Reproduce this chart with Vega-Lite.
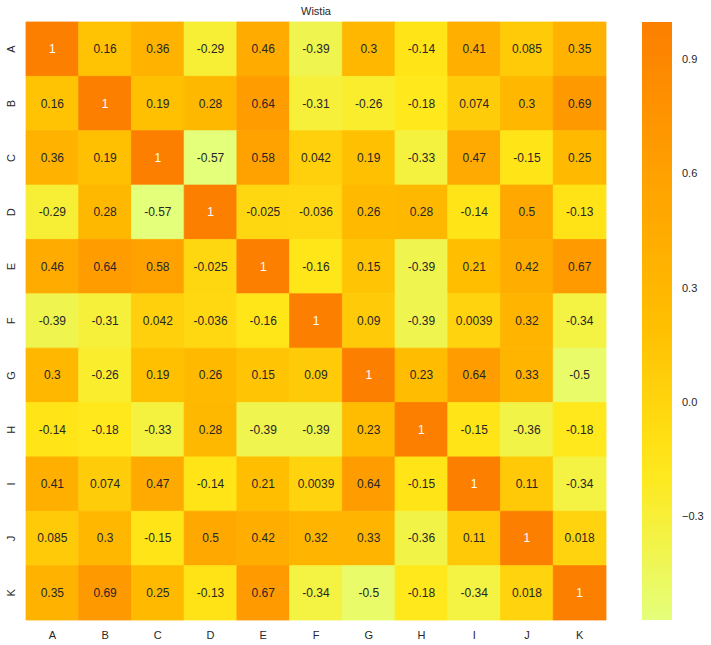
{
  "$schema": "https://vega.github.io/schema/vega-lite/v6.json",
  "width": 580,
  "height": 598,
  "padding": {"left": 5, "top": 5, "right": 5, "bottom": 5},
  "background": "white",
  "title": {"text": "Wistia", "fontSize": 11, "font": "Liberation Sans", "fontWeight": "normal", "color": "#262626", "offset": 5},
  "config": {"view": {"stroke": null}, "font": "Liberation Sans"},
  "data": {"values": [
    {"r":"A","c":"A","v":1},{"r":"A","c":"B","v":0.16},{"r":"A","c":"C","v":0.36},{"r":"A","c":"D","v":-0.29},{"r":"A","c":"E","v":0.46},{"r":"A","c":"F","v":-0.39},{"r":"A","c":"G","v":0.3},{"r":"A","c":"H","v":-0.14},{"r":"A","c":"I","v":0.41},{"r":"A","c":"J","v":0.085},{"r":"A","c":"K","v":0.35},
    {"r":"B","c":"A","v":0.16},{"r":"B","c":"B","v":1},{"r":"B","c":"C","v":0.19},{"r":"B","c":"D","v":0.28},{"r":"B","c":"E","v":0.64},{"r":"B","c":"F","v":-0.31},{"r":"B","c":"G","v":-0.26},{"r":"B","c":"H","v":-0.18},{"r":"B","c":"I","v":0.074},{"r":"B","c":"J","v":0.3},{"r":"B","c":"K","v":0.69},
    {"r":"C","c":"A","v":0.36},{"r":"C","c":"B","v":0.19},{"r":"C","c":"C","v":1},{"r":"C","c":"D","v":-0.57},{"r":"C","c":"E","v":0.58},{"r":"C","c":"F","v":0.042},{"r":"C","c":"G","v":0.19},{"r":"C","c":"H","v":-0.33},{"r":"C","c":"I","v":0.47},{"r":"C","c":"J","v":-0.15},{"r":"C","c":"K","v":0.25},
    {"r":"D","c":"A","v":-0.29},{"r":"D","c":"B","v":0.28},{"r":"D","c":"C","v":-0.57},{"r":"D","c":"D","v":1},{"r":"D","c":"E","v":-0.025},{"r":"D","c":"F","v":-0.036},{"r":"D","c":"G","v":0.26},{"r":"D","c":"H","v":0.28},{"r":"D","c":"I","v":-0.14},{"r":"D","c":"J","v":0.5},{"r":"D","c":"K","v":-0.13},
    {"r":"E","c":"A","v":0.46},{"r":"E","c":"B","v":0.64},{"r":"E","c":"C","v":0.58},{"r":"E","c":"D","v":-0.025},{"r":"E","c":"E","v":1},{"r":"E","c":"F","v":-0.16},{"r":"E","c":"G","v":0.15},{"r":"E","c":"H","v":-0.39},{"r":"E","c":"I","v":0.21},{"r":"E","c":"J","v":0.42},{"r":"E","c":"K","v":0.67},
    {"r":"F","c":"A","v":-0.39},{"r":"F","c":"B","v":-0.31},{"r":"F","c":"C","v":0.042},{"r":"F","c":"D","v":-0.036},{"r":"F","c":"E","v":-0.16},{"r":"F","c":"F","v":1},{"r":"F","c":"G","v":0.09},{"r":"F","c":"H","v":-0.39},{"r":"F","c":"I","v":0.0039},{"r":"F","c":"J","v":0.32},{"r":"F","c":"K","v":-0.34},
    {"r":"G","c":"A","v":0.3},{"r":"G","c":"B","v":-0.26},{"r":"G","c":"C","v":0.19},{"r":"G","c":"D","v":0.26},{"r":"G","c":"E","v":0.15},{"r":"G","c":"F","v":0.09},{"r":"G","c":"G","v":1},{"r":"G","c":"H","v":0.23},{"r":"G","c":"I","v":0.64},{"r":"G","c":"J","v":0.33},{"r":"G","c":"K","v":-0.5},
    {"r":"H","c":"A","v":-0.14},{"r":"H","c":"B","v":-0.18},{"r":"H","c":"C","v":-0.33},{"r":"H","c":"D","v":0.28},{"r":"H","c":"E","v":-0.39},{"r":"H","c":"F","v":-0.39},{"r":"H","c":"G","v":0.23},{"r":"H","c":"H","v":1},{"r":"H","c":"I","v":-0.15},{"r":"H","c":"J","v":-0.36},{"r":"H","c":"K","v":-0.18},
    {"r":"I","c":"A","v":0.41},{"r":"I","c":"B","v":0.074},{"r":"I","c":"C","v":0.47},{"r":"I","c":"D","v":-0.14},{"r":"I","c":"E","v":0.21},{"r":"I","c":"F","v":0.0039},{"r":"I","c":"G","v":0.64},{"r":"I","c":"H","v":-0.15},{"r":"I","c":"I","v":1},{"r":"I","c":"J","v":0.11},{"r":"I","c":"K","v":-0.34},
    {"r":"J","c":"A","v":0.085},{"r":"J","c":"B","v":0.3},{"r":"J","c":"C","v":-0.15},{"r":"J","c":"D","v":0.5},{"r":"J","c":"E","v":0.42},{"r":"J","c":"F","v":0.32},{"r":"J","c":"G","v":0.33},{"r":"J","c":"H","v":-0.36},{"r":"J","c":"I","v":0.11},{"r":"J","c":"J","v":1},{"r":"J","c":"K","v":0.018},
    {"r":"K","c":"A","v":0.35},{"r":"K","c":"B","v":0.69},{"r":"K","c":"C","v":0.25},{"r":"K","c":"D","v":-0.13},{"r":"K","c":"E","v":0.67},{"r":"K","c":"F","v":-0.34},{"r":"K","c":"G","v":-0.5},{"r":"K","c":"H","v":-0.18},{"r":"K","c":"I","v":-0.34},{"r":"K","c":"J","v":0.018},{"r":"K","c":"K","v":1}
  ]},
  "encoding": {
    "x": {"field": "c", "type": "nominal", "title": null, "scale": {"paddingInner": 0, "paddingOuter": 0},
      "axis": {"orient": "bottom", "labelAngle": 0, "ticks": false, "domain": false, "labelPadding": 9, "labelFontSize": 11, "labelColor": "#262626", "labelFont": "Liberation Sans"}},
    "y": {"field": "r", "type": "nominal", "title": null, "scale": {"paddingInner": 0, "paddingOuter": 0},
      "axis": {"ticks": false, "domain": false, "labelAngle": -90, "labelAlign": "center", "labelBaseline": "bottom", "labelPadding": 10, "labelFontSize": 11, "labelColor": "#262626", "labelFont": "Liberation Sans"}}
  },
  "layer": [
    {
      "mark": {"type": "rect", "strokeWidth": 0.8, "stroke": {"expr": "scale('color', datum.v)"}},
      "encoding": {
        "color": {"field": "v", "type": "quantitative",
          "scale": {"domain": [-0.57, 1], "range": ["#e4ff7a", "#ffe81a", "#ffbd00", "#ffa000", "#fc7f00"], "interpolate": "rgb"},
          "legend": {"title": null, "direction": "vertical", "gradientLength": 598, "gradientThickness": 30, "values": [-0.3, 0, 0.3, 0.6, 0.9], "format": ".1f", "offset": 36, "labelOffset": 10, "labelFontSize": 11, "labelColor": "#262626", "labelFont": "Liberation Sans", "gradientStrokeWidth": 0, "padding": 0}}
      }
    },
    {
      "mark": {"type": "text", "fontSize": 12, "font": "Liberation Sans"},
      "encoding": {
        "text": {"field": "v", "type": "nominal"},
        "color": {"condition": {"test": "datum.v >= 0.95", "value": "#ffffff"}, "value": "#262626"}
      }
    }
  ]
}
